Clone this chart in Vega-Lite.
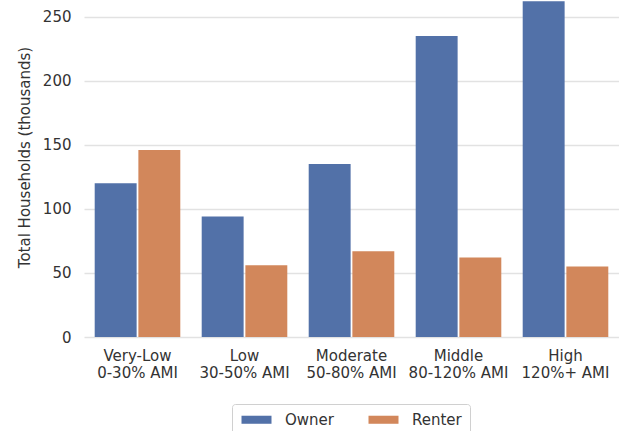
{
  "$schema": "https://vega.github.io/schema/vega-lite/v6.json",
  "autosize": "none",
  "width": 535,
  "height": 337,
  "padding": {"left": 84, "top": 0, "right": 0, "bottom": 94},
  "background": "white",
  "config": {
    "view": {"stroke": null},
    "font": "DejaVu Sans",
    "axis": {"labelFont": "DejaVu Sans", "titleFont": "DejaVu Sans", "labelColor": "#333333", "titleColor": "#333333"}
  },
  "data": {
    "values": [
      {"cat": "Very-Low|0-30% AMI", "type": "Owner", "value": 120},
      {"cat": "Very-Low|0-30% AMI", "type": "Renter", "value": 146},
      {"cat": "Low|30-50% AMI", "type": "Owner", "value": 94},
      {"cat": "Low|30-50% AMI", "type": "Renter", "value": 56},
      {"cat": "Moderate|50-80% AMI", "type": "Owner", "value": 135},
      {"cat": "Moderate|50-80% AMI", "type": "Renter", "value": 67},
      {"cat": "Middle|80-120% AMI", "type": "Owner", "value": 235},
      {"cat": "Middle|80-120% AMI", "type": "Renter", "value": 62},
      {"cat": "High|120%+ AMI", "type": "Owner", "value": 262},
      {"cat": "High|120%+ AMI", "type": "Renter", "value": 55}
    ]
  },
  "mark": {"type": "bar", "clip": true},
  "encoding": {
    "x": {
      "field": "cat",
      "type": "nominal",
      "sort": null,
      "scale": {"paddingInner": 0.2, "paddingOuter": 0.1},
      "axis": {
        "title": null,
        "labelAngle": 0,
        "labelExpr": "split(datum.label, '|')",
        "labelFontSize": 15,
        "labelLineHeight": 17,
        "labelPadding": 11,
        "ticks": false,
        "domain": false,
        "grid": false
      }
    },
    "xOffset": {
      "field": "type",
      "type": "nominal",
      "scale": {"paddingInner": 0.04}
    },
    "y": {
      "field": "value",
      "type": "quantitative",
      "scale": {"domain": [0, 263], "nice": false},
      "axis": {
        "title": "Total Households (thousands)",
        "titleFontSize": 15,
        "titleFontWeight": "normal",
        "titleY": 157,
        "titleX": -52,
        "values": [0, 50, 100, 150, 200, 250],
        "labelFontSize": 15,
        "labelPadding": 13,
        "ticks": false,
        "domain": false,
        "gridColor": "#e2e2e2",
        "gridWidth": 1.3
      }
    },
    "color": {
      "field": "type",
      "type": "nominal",
      "scale": {"domain": ["Owner", "Renter"], "range": ["#5271a8", "#d2875b"]},
      "legend": {
        "title": null,
        "orient": "none",
        "direction": "horizontal",
        "legendX": 148,
        "legendY": 404,
        "symbolType": "M-1,-0.67H4V0.67H-1Z",
        "symbolSize": 144,
        "symbolStrokeWidth": 0,
        "labelFontSize": 15,
        "labelColor": "#333333",
        "labelFont": "DejaVu Sans",
        "labelOffset": 30,
        "columnPadding": 33,
        "padding": 8,
        "strokeColor": "#d0d0d0",
        "cornerRadius": 3
      }
    }
  }
}
